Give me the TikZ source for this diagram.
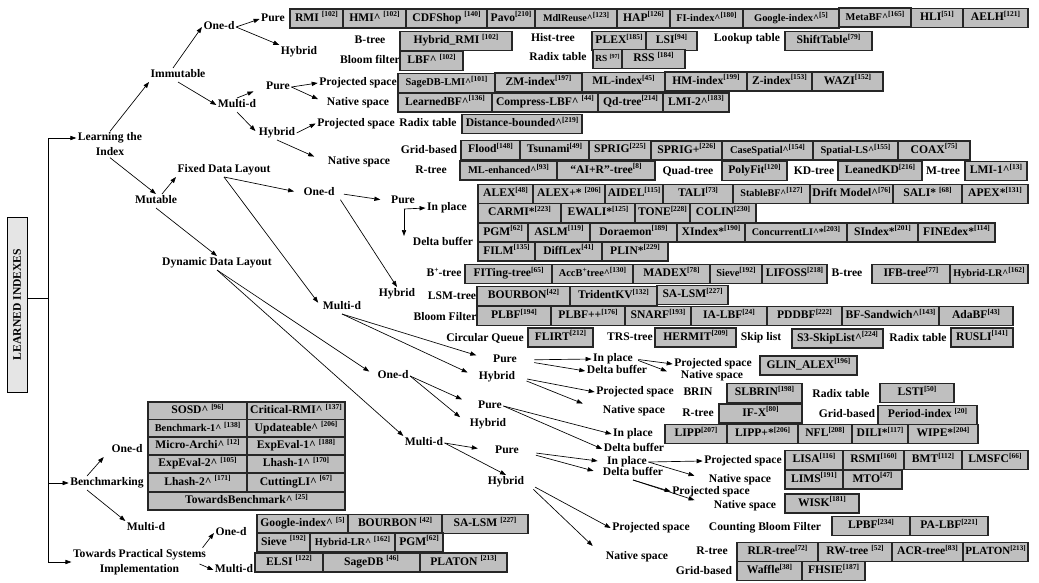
\documentclass[tikz,border=0pt]{standalone}
\usepackage{fontspec}
\setmainfont{Liberation Serif}
\usepackage{graphicx}
\usetikzlibrary{arrows.meta,calc}

\newcommand{\lf}{\fontsize{8.7}{11.25}\selectfont\bfseries}
\newcommand{\rf}[1]{\raisebox{0.85ex}{\fontsize{5.6}{6}\selectfont[#1]}}
\newcommand{\spl}{\raisebox{0.85ex}{\fontsize{5.6}{6}\selectfont+}}
\newcommand{\ca}{\textasciicircum}
\newsavebox{\fitsb}
\newlength{\fitw}
\newcounter{bxc}
\newcommand{\fitin}[1]{\sbox{\fitsb}{#1}\ifdim\wd\fitsb>\fitw\resizebox{\fitw}{!}{\usebox{\fitsb}}\else\usebox{\fitsb}\fi}
\newcommand{\B}[5]{\stepcounter{bxc}\pgfmathsetlength{\fitw}{((#2)-(#1))*0.75pt-3.5pt}%
  \node[bxs,minimum width={((#2)-(#1))*0.75pt},minimum height={((#4)-(#3))*0.75pt}] (b\number\value{bxc}) at ({((#1)+(#2))/2},{((#3)+(#4))/2}) {\fitin{#5}};}
\newcommand{\bx}[4]{\B{#1}{#2}{(#3)-9.5}{(#3)+9.5}{#4}}

\tikzset{
  arr/.style={-{Triangle[length=4.5pt,width=3.2pt]}, line width=0.5pt},
  lbl/.style={font=\lf, inner sep=1pt, text height=6.2pt, text depth=1.9pt},
  lbltwo/.style={font=\lf, inner sep=1pt, align=center},
  bxs/.style={draw=black!85, line width=0.8pt, fill=black!25, inner sep=0pt, font=\lf, text height=6.2pt, text depth=1.9pt}
}

\begin{document}
\begin{tikzpicture}[x=0.75pt,y=-0.75pt]
\fill[white] (0,0) rectangle (1039,582);
\useasboundingbox (0,0) rectangle (1039,582);

% ---------- left part ----------
\node[draw=black, line width=0.6pt, fill=black!10, rotate=90, minimum width=131.25pt, minimum height=15pt, inner sep=0pt, font=\lf] (LI) at (17,304.5) {LEARNED INDEXES};
\node[lbltwo] (learn) at (110,144.5) {Learning the\\Index};
\node[lbl] (bench) at (107,483) {Benchmarking};
\node[lbltwo] (tps) at (139.5,562) {Towards Practical Systems\\Implementation};

\coordinate (ttop) at (48,138);
\draw[line width=0.5pt] (ttop) -- (ttop |- tps.west);
\draw[line width=0.5pt] ($(LI.south)+(0,-6)$) coordinate (lis) -- (lis -| ttop);
\draw[arr] (ttop) -- (ttop -| learn.west);
\draw[arr] (bench.west -| ttop) -- (bench.west);
\draw[arr] (tps.west -| ttop) -- (tps.west);

% ---------- immutable ----------
\node[lbl] (imm) at (178,75) {Immutable};
\node[lbl] (od1) at (219,27) {One-d};
\node[lbl] (pu1) at (273,19) {Pure};
\node[lbl] (hy1) at (299,52) {Hybrid};
\node[lbl] (md1) at (237,105) {Multi-d};
\node[lbl] (pu2) at (278,87) {Pure};
\node[lbl] (hy2) at (277,133) {Hybrid};
\node[lbl] (ps1) at (358,83) {Projected space};
\node[lbl] (ns1) at (358,102.5) {Native space};
\node[lbl] (ps2) at (356,123.5) {Projected space};
\node[lbl] (ns2) at (359,162) {Native space};

\node[lbl] (c1) at (370,41) {B-tree};
\node[lbl] (c2) at (370,60.5) {Bloom filter};
\node[lbl] (c3) at (553,38.5) {Hist-tree};
\node[lbl] (c4) at (558,58) {Radix table};
\node[lbl] (c5) at (747,38.5) {Lookup table};
\node[lbl] (c6) at (428,123.5) {Radix table};
\node[lbl] (c7) at (429,150.5) {Grid-based};
\node[lbl] (c8) at (431,171) {R-tree};
\node[lbl] (c9) at (688,172) {Quad-tree};
\node[lbl] (c10) at (814,172) {KD-tree};
\node[lbl] (c11) at (943,172) {M-tree};

\draw[arr] (learn.north) -- (imm.south west);
\draw[arr] ($(imm.north)+(-5,0)$) -- (od1.west);
\draw[arr] (imm.south) -- (md1.west);
\draw[arr] (od1.east) -- (pu1.west);
\draw[arr] (od1.east) -- (hy1.north west);
\draw[arr, shorten >=9pt] (md1.north) -- (pu2.west);
\draw[arr, shorten >=2pt] (md1.south) -- (hy2.west);
\draw[arr] (pu2.east) -- (ps1.west);
\draw[arr, shorten >=6pt] (pu2.east) -- (ns1.west);
\draw[arr] (hy2.east) -- (ps2.west);
\draw[arr, shorten >=10pt] (hy2.south) -- (ns2.west);

% boxes immutable
\bx{290}{343}{18.5}{RMI \rf{102}}
\bx{343}{406}{18.5}{HMI\ca\ \rf{102}}
\bx{406}{487}{18.5}{CDFShop \rf{140}}
\bx{487}{535}{18.5}{Pavo\rf{210}}
\bx{535}{617}{18.5}{\fontsize{7.6}{9}\selectfont MdlReuse\ca\rf{123}}
\bx{617}{670}{18.5}{HAP\rf{126}}
\bx{670}{743}{18.5}{\fontsize{7.8}{9}\selectfont FI-index\ca\rf{180}}
\bx{743}{839}{18.5}{\fontsize{7.8}{9}\selectfont Google-index\ca\rf{5}}
\bx{839}{911}{17.5}{\fontsize{7.8}{9}\selectfont MetaBF\ca\rf{165}}
\bx{911}{963}{18}{HLI\rf{51}}
\bx{963}{1028}{18}{AELH\rf{121}}
\bx{400}{512}{41}{Hybrid\_RMI \rf{102}}
\bx{592}{646}{41}{PLEX\rf{185}}
\bx{646}{697}{41}{LSI\rf{94}}
\bx{785}{872}{41}{ShiftTable\rf{79}}
\bx{400}{463}{61}{LBF\ca\ \rf{102}}
\bx{593}{622}{59}{RS \rf{97}}
\bx{622}{685}{59}{RSS \rf{184}}
\bx{398}{495}{83}{\fontsize{7.8}{9}\selectfont SageDB-LMI\ca\rf{101}}
\bx{495}{582}{82.5}{ZM-index\rf{197}}
\bx{582}{665}{82}{ML-index\rf{45}}
\bx{665}{747}{81.5}{HM-index\rf{199}}
\bx{747}{812}{81.5}{Z-index\rf{153}}
\bx{812}{883}{81.5}{WAZI\rf{152}}
\bx{398}{492}{102.5}{LearnedBF\ca\rf{136}}
\bx{492}{598}{102.5}{Compress-LBF\ca\ \rf{44}}
\bx{598}{663}{102.5}{Qd-tree\rf{214}}
\bx{663}{729}{102.5}{LMI-2\ca\rf{183}}
\bx{462}{582}{124}{Distance-bounded\ca\rf{219}}
\bx{461}{520}{150}{Flood\rf{148}}
\bx{520}{589}{150}{Tsunami\rf{49}}
\bx{589}{651}{150}{SPRIG\rf{225}}
\bx{651}{722}{150.5}{SPRIG+\rf{226}}
\bx{722}{813}{150.5}{\fontsize{7.8}{9}\selectfont CaseSpatial\ca\rf{154}}
\bx{813}{898}{150.5}{\fontsize{7.8}{9}\selectfont Spatial-LS\ca\rf{155}}
\bx{898}{970}{150.5}{COAX\rf{75}}
\bx{460}{557}{170.5}{\fontsize{7.8}{9}\selectfont ML-enhanced\ca\rf{93}}
\bx{557}{655}{170.5}{“AI+R”-tree\rf{8}}
\bx{722}{787}{171}{PolyFit\rf{120}}
\bx{838}{922}{171}{LeanedKD\rf{216}}
\bx{965}{1027}{171}{LMI-1\ca\rf{13}}

% ---------- mutable ----------
\node[lbl] (mut) at (156,201) {Mutable};
\node[lbl] (fdl) at (224,170) {Fixed Data Layout};
\node[lbl] (ddl) at (217,263) {Dynamic Data Layout};
\node[lbl] (od2) at (319,193) {One-d};
\node[lbl] (pu3) at (403,201) {Pure};
\node[lbl] (ip1) at (447,208) {In place};
\node[lbl] (db1) at (443,243) {Delta buffer};
\node[lbl] (hy3) at (397,294) {Hybrid};
\node[lbl] (c12) at (444,274) {B\spl-tree};
\node[lbl] (c13) at (452,297) {LSM-tree};
\node[lbl] (c14) at (445,318) {Bloom Filter};
\node[lbl] (c15) at (485,339) {Circular Queue};
\node[lbl] (c16) at (630,338) {TRS-tree};
\node[lbl] (c17) at (761,337.5) {Skip list};
\node[lbl] (c18) at (918,339) {Radix table};
\node[lbl] (c19) at (847,274) {B-tree};
\node[lbl] (md2) at (342,307) {Multi-d};
\node[lbl] (pu4) at (505,360) {Pure};
\node[lbl] (hy4) at (497,377) {Hybrid};
\node[lbl] (ip2) at (613,359) {In place};
\node[lbl] (db2) at (617,371) {Delta buffer};
\node[lbl] (ps3) at (713,364) {Projected space};
\node[lbl] (ns3) at (712,376) {Native space};
\node[lbl] (ps4) at (635,392) {Projected space};
\node[lbl] (ns4) at (634,411) {Native space};
\node[lbl] (c20) at (698,393) {BRIN};
\node[lbl] (c21) at (841,395) {Radix table};
\node[lbl] (c22) at (698,413.5) {R-tree};
\node[lbl] (c23) at (847,414.5) {Grid-based};

\draw[arr] (learn.south) -- (mut.north);
\draw[arr] ($(mut.north)+(6,0)$) -- (fdl.south west);
\draw[arr] (mut.south) -- (ddl.north);
\draw[arr, shorten >=6pt] (fdl.south) -- (od2.west);
\draw[arr, shorten >=4pt] (fdl.south) -- (md2.west);
\draw[arr, shorten <=6pt, shorten >=7pt] (od2.east) -- (pu3.west);
\draw[arr, shorten <=6pt] (od2.east) -- (hy3.north);
\coordinate (pe) at ($(pu3.south)+(1,1)$);
\draw[arr] (pe) -- (ip1.west);
\draw[arr] (pe) -- (pe |- db1.north);
\draw[arr, shorten >=12pt] (md2.south) -- (pu4.west);
\draw[arr, shorten >=8pt] (md2.south) -- (hy4.west);
\draw[arr, shorten <=12pt] (pu4.east) -- (ip2.west);
\draw[arr, shorten <=12pt] (pu4.east) -- (db2.west);
\draw[arr, shorten <=3pt] (ip2.east) -- (ps3.west);
\draw[arr, shorten <=3pt, shorten >=10pt] (ip2.east) -- (ns3.west);
\draw[arr, shorten <=8pt] (hy4.east) -- (ps4.west);
\draw[arr, shorten <=8pt, shorten >=15pt] (hy4.east) -- (ns4.west);

\bx{478}{533}{194}{ALEX\rf{48}}
\bx{533}{605}{194}{ALEX+* \rf{206}}
\bx{605}{663}{194}{AIDEL\rf{115}}
\bx{663}{733}{194}{TALI\rf{73}}
\bx{733}{810}{194}{\fontsize{7.6}{9}\selectfont StableBF\ca\rf{127}}
\bx{810}{893}{194}{Drift Model\ca\rf{76}}
\bx{893}{962}{194}{SALI* \rf{68}}
\bx{962}{1028}{194}{APEX*\rf{131}}
\bx{478}{561}{213}{CARMI*\rf{223}}
\bx{561}{635}{213}{EWALI*\rf{125}}
\bx{635}{690}{213}{TONE\rf{228}}
\bx{690}{756}{213}{COLIN\rf{230}}
\bx{478}{528}{232.5}{PGM\rf{62}}
\bx{528}{590}{232.5}{ASLM\rf{119}}
\bx{590}{677}{232.5}{Doraemon\rf{189}}
\bx{677}{745}{232.5}{XIndex*\rf{190}}
\bx{745}{847}{232.5}{\fontsize{7.6}{9}\selectfont ConcurrentLI\ca*\rf{203}}
\bx{847}{918}{232.5}{SIndex*\rf{201}}
\bx{918}{995}{232.5}{FINEdex*\rf{114}}
\bx{478}{535}{251.5}{FILM\rf{135}}
\bx{535}{602}{251.5}{DiffLex\rf{41}}
\bx{602}{668}{251.5}{PLIN*\rf{229}}
\bx{465}{552}{274}{FITing-tree\rf{65}}
\bx{552}{633}{274}{\fontsize{7.8}{9}\selectfont AccB\spl tree\ca\rf{130}}
\bx{633}{710}{274}{MADEX\rf{78}}
\bx{710}{762}{274}{\fontsize{7.8}{9}\selectfont Sieve\rf{192}}
\bx{762}{827}{274}{LIFOSS\rf{218}}
\bx{872}{950}{274}{IFB-tree\rf{77}}
\bx{950}{1028}{274}{\fontsize{7.6}{9}\selectfont Hybrid-LR\ca\rf{162}}
\bx{477}{570}{296}{BOURBON\rf{42}}
\bx{570}{657}{296}{TridentKV\rf{132}}
\bx{657}{728}{295}{SA-LSM\rf{227}}
\bx{477}{551}{316}{PLBF\rf{194}}
\bx{551}{625}{316}{PLBF++\rf{176}}
\bx{625}{691}{316}{SNARF\rf{193}}
\bx{691}{767}{316}{IA-LBF\rf{24}}
\bx{767}{842}{316}{PDDBF\rf{222}}
\bx{842}{939}{316}{BF-Sandwich\ca\rf{143}}
\bx{939}{1013}{316}{AdaBF\rf{43}}
\bx{528}{593}{337.5}{FLIRT\rf{212}}
\bx{655}{736}{337.5}{HERMIT\rf{209}}
\bx{792}{883}{338.5}{S3-SkipList\ca\rf{224}}
\bx{951}{1013}{337.5}{RUSLI\rf{141}}
\bx{760}{857}{365.5}{GLIN\_ALEX\rf{196}}
\bx{727}{802}{393}{SLBRIN\rf{198}}
\bx{880}{954}{393}{LSTI\rf{50}}
\bx{719}{802}{413.5}{IF-X\rf{80}}
\bx{878}{977}{415}{Period-index \rf{20}}

% ---------- dynamic ----------
\node[lbl] (od3) at (393,376) {One-d};
\node[lbl] (pu5) at (490,406) {Pure};
\node[lbl] (hy5) at (488,424) {Hybrid};
\node[lbl] (ip3) at (633,434) {In place};
\node[lbl] (db3) at (634,449) {Delta buffer};
\node[lbl] (md3) at (424,443) {Multi-d};
\node[lbl] (pu6) at (507,451) {Pure};
\node[lbl] (hy6) at (506,482) {Hybrid};
\node[lbl] (ip4) at (627,462) {In place};
\node[lbl] (db4) at (633,473) {Delta buffer};
\node[lbl] (ps5) at (743,461) {Projected space};
\node[lbl] (ns5) at (740,479.5) {Native space};
\node[lbl] (ps6) at (711,491.5) {Projected space};
\node[lbl] (ns6) at (745,506) {Native space};
\node[lbl] (ps7) at (651,528) {Projected space};
\node[lbl] (ns7) at (637,557) {Native space};
\node[lbl] (c24) at (765,528) {Counting Bloom Filter};
\node[lbl] (c25) at (712,552) {R-tree};
\node[lbl] (c26) at (704,572) {Grid-based};

\draw[arr, shorten >=6pt] (ddl.south) -- (od3.west);
\draw[arr] (ddl.south) -- (md3.north west);
\draw[arr, shorten >=12pt] (od3.east) -- (pu5.west);
\draw[arr, shorten >=8pt] (od3.east) -- (hy5.west);
\draw[arr] (pu5.east) -- (ip3.west);
\draw[arr] (pu5.east) -- (db3.west);
\draw[arr, shorten >=12pt] (md3.east) -- (pu6.west);
\draw[arr] (md3.east) -- (hy6.north);
\draw[arr, shorten <=12pt, shorten >=6pt] (pu6.east) -- (ip4.west);
\draw[arr, shorten <=12pt, shorten >=6pt] (pu6.east) -- (db4.west);
\draw[arr] (ip4.east) -- (ps5.west);
\draw[arr, shorten >=10pt] (ip4.east) -- (ns5.west);
\draw[arr] (db4.south) -- (ps6.west);
\draw[arr, shorten >=14pt] (db4.south) -- (ns6.west);
\draw[arr, shorten <=8pt] (hy6.east) -- (ps7.west);
\draw[arr, shorten <=8pt, shorten >=12pt] (hy6.east) -- (ns7.west);

\bx{665}{727}{434}{LIPP\rf{207}}
\bx{727}{798}{434}{LIPP+*\rf{206}}
\bx{798}{852}{434}{NFL\rf{208}}
\bx{852}{908}{434}{DILI*\rf{117}}
\bx{908}{978}{434}{WIPE*\rf{204}}
\bx{785}{843}{460}{LISA\rf{116}}
\bx{843}{904}{460}{RSMI\rf{160}}
\bx{904}{962}{460}{BMT\rf{112}}
\bx{962}{1028}{460}{LMSFC\rf{66}}
\bx{785}{843}{479.5}{LIMS\rf{191}}
\bx{843}{902}{479.5}{MTO\rf{47}}
\bx{785}{859}{503.5}{WISK\rf{181}}
\bx{832}{910}{526}{LPBF\rf{234}}
\bx{910}{988}{526}{PA-LBF\rf{221}}
\bx{737}{818}{552}{RLR-tree\rf{72}}
\bx{818}{892}{552}{RW-tree \rf{52}}
\bx{892}{963}{552}{ACR-tree\rf{83}}
\bx{963}{1028}{552}{PLATON\rf{213}}
\bx{737}{802}{571}{Waffle\rf{38}}
\bx{802}{865}{571}{FHSIE\rf{187}}

% ---------- benchmarking ----------
\node[lbl] (od4) at (127,450) {One-d};
\node[lbl] (md4) at (146,528) {Multi-d};
\draw[arr, shorten >=7pt] ($(bench.north)+(-20,0)$) -- (od4.west);
\draw[arr] ($(bench.south)+(-20,0)$) -- (md4.north west);

\B{148}{247}{402}{419.5}{SOSD\ca\ \rf{96}}
\B{247}{345}{402}{419.5}{Critical-RMI\ca\ \rf{137}}
\B{148}{247}{419.5}{437}{\fontsize{7.8}{9}\selectfont Benchmark-1\ca\ \rf{138}}
\B{247}{345}{419.5}{437}{Updateable\ca\ \rf{206}}
\B{148}{247}{437}{455}{Micro-Archi\ca\ \rf{12}}
\B{247}{345}{437}{455}{ExpEval-1\ca\ \rf{188}}
\B{148}{247}{455}{473}{ExpEval-2\ca\ \rf{105}}
\B{247}{345}{455}{473}{Lhash-1\ca\ \rf{170}}
\B{148}{247}{473}{492}{Lhash-2\ca\ \rf{171}}
\B{247}{345}{473}{492}{CuttingLI\ca\ \rf{67}}
\B{148}{345}{492}{510}{TowardsBenchmark\ca\ \rf{25}}

% ---------- practical ----------
\node[lbl] (od5) at (231,533) {One-d};
\node[lbl] (md5) at (234,570) {Multi-d};
\draw[arr] ($(tps.north east)+(-5,0)$) -- (od5.west);
\draw[arr] ($(tps.east)+(-8,2)$) -- (md5.west);

\bx{257}{348}{524}{Google-index\ca\ \rf{5}}
\bx{348}{442}{524}{BOURBON \rf{42}}
\bx{442}{528}{524}{SA-LSM \rf{227}}
\bx{257}{310}{542.5}{Sieve \rf{192}}
\bx{310}{395}{542.5}{\fontsize{7.8}{9}\selectfont Hybrid-LR\ca\ \rf{162}}
\bx{395}{443}{542.5}{PGM\rf{62}}
\bx{255}{323}{562.5}{ELSI \rf{122}}
\bx{323}{420}{562.5}{SageDB \rf{46}}
\bx{420}{507}{562.5}{PLATON \rf{213}}
\end{tikzpicture}
\end{document}
